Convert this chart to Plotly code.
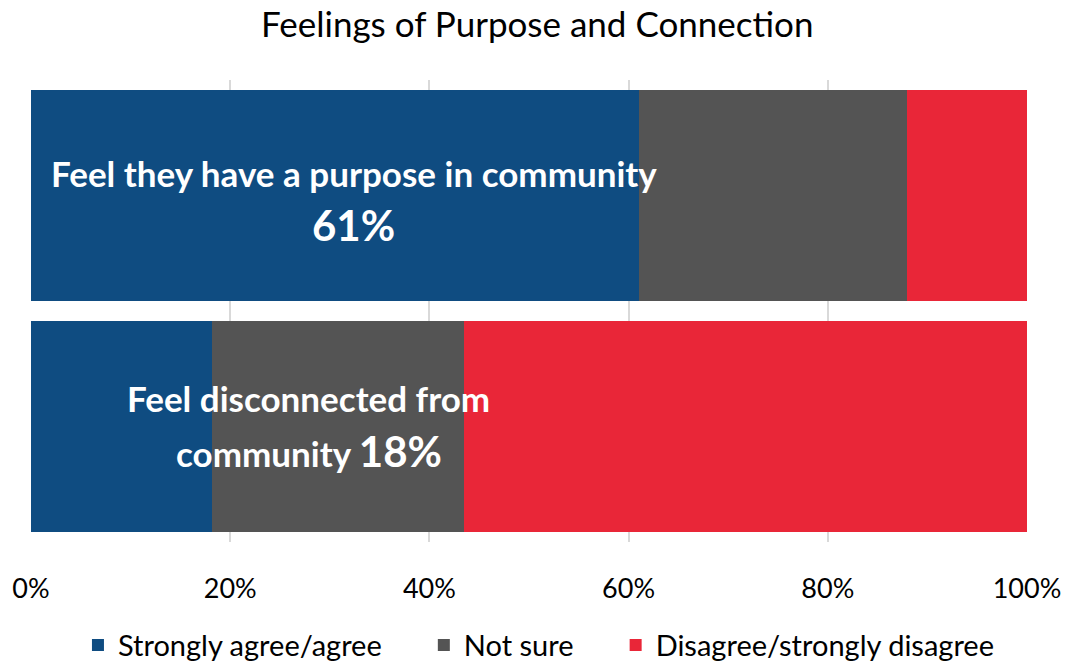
import plotly.graph_objects as go

# --- Datos ---
categorias = ["Feel disconnected from community", "Feel they have a purpose in community"]
series = ["Strongly agree/agree", "Not sure", "Disagree/strongly disagree"]
acuerdo = [18.2, 61]
no_seguro = [25.3, 27]
desacuerdo = [56.5, 12]
colores = ["#0F4C81", "#545454", "#E92638"]

tick_vals = [0, 20, 40, 60, 80, 100]
tick_text = ["0%", "20%", "40%", "60%", "80%", "100%"]

FUENTE = "Lato, 'Open Sans', sans-serif"
ESPACIO = "\u00a0" * 5  # separación extra entre entradas de la leyenda

fig = go.Figure()
for i, (nombre, valores, color) in enumerate(zip(series, [acuerdo, no_seguro, desacuerdo], colores)):
    fig.add_trace(go.Bar(
        y=categorias,
        x=valores,
        name=nombre + (ESPACIO if i < len(series) - 1 else ""),
        orientation="h",
        marker=dict(color=color, line=dict(width=0)),
        hoverinfo="skip",
    ))

# --- Etiquetas dentro de las barras ---
etiqueta = dict(xref="paper", yref="paper", xanchor="center", yanchor="middle", showarrow=False)
fig.add_annotation(
    x=0.324, y=0.798, text="<b>Feel they have a purpose in community</b>",
    font=dict(family=FUENTE, size=35, color="white"), **etiqueta,
)
fig.add_annotation(
    x=0.324, y=0.686, text="<b>61%</b>",
    font=dict(family=FUENTE, size=42, color="white"), **etiqueta,
)
fig.add_annotation(
    x=0.279, y=0.311, text="<b>Feel disconnected from</b>",
    font=dict(family=FUENTE, size=35, color="white"), **etiqueta,
)
fig.add_annotation(
    x=0.279, y=0.197, text="<b>community <span style='font-size:42px'>18%</span></b>",
    font=dict(family=FUENTE, size=35, color="white"), **etiqueta,
)

fig.update_layout(
    barmode="stack",
    bargap=0.09,
    width=1081,
    height=662,
    paper_bgcolor="white",
    plot_bgcolor="white",
    margin=dict(l=31, r=54, t=80, b=120, autoexpand=False),
    font=dict(family=FUENTE, size=26, color="black"),
    title=dict(
        text="Feelings of Purpose and Connection",
        x=0.497, xref="container", xanchor="center",
        y=0.962, yref="container", yanchor="middle",
        font=dict(family=FUENTE, size=35, color="black"),
    ),
    xaxis=dict(
        range=[0, 100],
        tickvals=tick_vals,
        ticktext=tick_text,
        showgrid=True,
        gridcolor="#D9D9D9",
        gridwidth=1.5,
        zeroline=False,
        showline=False,
        ticks="outside",
        ticklen=23,
        tickcolor="rgba(0,0,0,0)",
        tickfont=dict(size=27, color="black"),
        fixedrange=True,
    ),
    yaxis=dict(
        showticklabels=False,
        showgrid=False,
        zeroline=False,
        range=[-0.5, 1.5],
        fixedrange=True,
    ),
    legend=dict(
        orientation="h",
        x=0.51, xanchor="center",
        y=-0.223, yanchor="middle",
        font=dict(size=29, color="black"),
        traceorder="normal",
        itemwidth=30,
    ),
    showlegend=True,
)

fig.write_html(
    "out.html",
    config={"displayModeBar": False},
    post_script="document.body.style.margin='0px';",
)
